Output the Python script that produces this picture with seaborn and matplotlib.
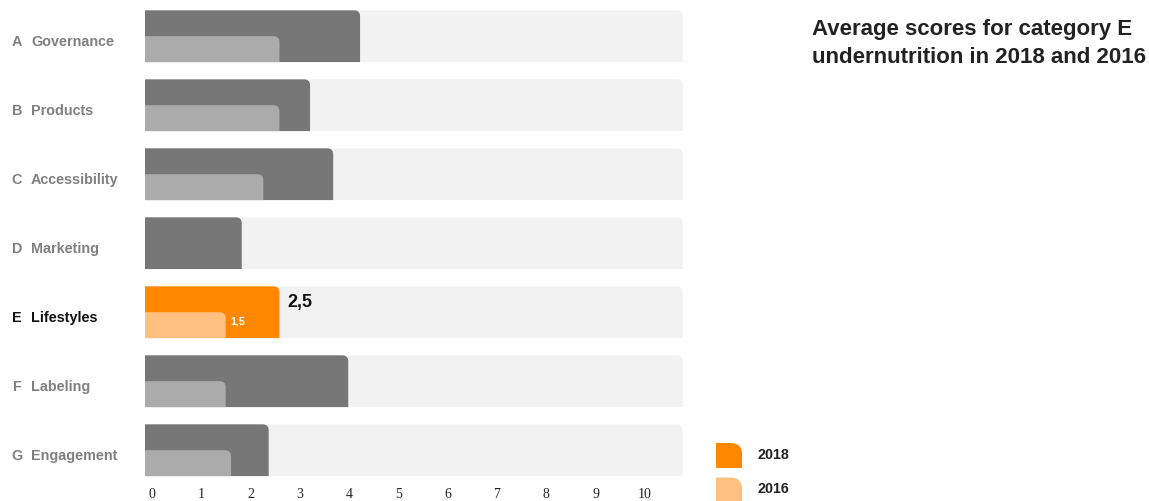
import matplotlib
matplotlib.use("Agg")
import matplotlib.pyplot as plt
import matplotlib.transforms as mtransforms
from matplotlib.path import Path
from matplotlib.patches import PathPatch, Rectangle
import seaborn as sns
import pandas as pd
import numpy as np

# ---------------- data ----------------
letters = ["A", "B", "C", "D", "E", "F", "G"]
categories = ["Governance", "Products", "Accessibility", "Marketing",
              "Lifestyles", "Labeling", "Engagement"]
scores_2018 = [4.0, 3.07, 3.5, 1.8, 2.5, 3.78, 2.3]
scores_2016 = [2.5, 2.5, 2.2, 0.0, 1.5, 1.5, 1.6]
max_score = 10
tick_labels = [str(i) for i in range(11)]
highlight = "Lifestyles"
years = ["2018", "2016"]
title = "Average scores for category E\nundernutrition in 2018 and 2016"

# ---------------- style ----------------
C_BG = "#f2f2f2"
C_18 = "#777777"
C_16 = "#ababab"
C_18_HI = "#ff8800"
C_16_HI = "#ffc080"

sns.set_theme(style="white")
plt.rcParams["font.family"] = ["Liberation Sans", "DejaVu Sans"]

W, H = 1149, 502
fig = plt.figure(figsize=(W / 100, H / 100), dpi=100)
ax = fig.add_axes([145 / W, 1 - 485.7 / H, 537.7 / W, 483 / H])

pos = np.arange(len(categories))
df = pd.DataFrame({
    "pos": pos.astype(float),
    "pos16": pos + 0.1875,
    "cat": categories,
    "s18": scores_2018,
    "s16": scores_2016,
    "bg": [max_score] * len(categories),
})

pal18 = {c: (C_18_HI if c == highlight else C_18) for c in categories}
pal16 = {c: (C_16_HI if c == highlight else C_16) for c in categories}

common = dict(data=df, orient="y", native_scale=True, errorbar=None,
              saturation=1, dodge=False, legend=False, ax=ax)
sns.barplot(x="bg", y="pos", color=C_BG, width=0.75, **common)
n_bg = len(ax.patches)
sns.barplot(x="s18", y="pos", hue="cat", palette=pal18, width=0.75, **common)
n_18 = len(ax.patches)
sns.barplot(x="s16", y="pos16", hue="cat", palette=pal16, width=0.375, **common)

ax.set_xlim(0, max_score)
ax.set_ylim(len(categories) - 0.5, -0.5)


def rounded_tr(x0, y0, x1, y1, r):
    """Path in display coords: rect with rounded top-right corner."""
    r = min(r, (x1 - x0), (y1 - y0))
    verts = [(x0, y0), (x1, y0), (x1, y1 - r), (x1, y1), (x1 - r, y1),
             (x0, y1), (x0, y0)]
    codes = [Path.MOVETO, Path.LINETO, Path.LINETO, Path.CURVE3, Path.CURVE3,
             Path.LINETO, Path.CLOSEPOLY]
    return verts, codes


# replace rectangles with rounded-corner bars
inv = ax.transData.inverted()
rects = [p for p in ax.patches if isinstance(p, Rectangle)]
for i, p in enumerate(rects):
    x, y, w, h = p.get_x(), p.get_y(), p.get_width(), p.get_height()
    fc = p.get_facecolor()
    p.remove()
    if w <= 0:
        continue
    (dx0, dy0), (dx1, dy1) = ax.transData.transform([(x, y), (x + w, y + h)])
    X0, X1 = min(dx0, dx1), max(dx0, dx1)
    Y0, Y1 = min(dy0, dy1), max(dy0, dy1)
    verts, codes = rounded_tr(X0, Y0, X1, Y1, 6)
    verts = inv.transform(verts)
    z = 1 if i < n_bg else (2 if i < n_18 else 3)
    ax.add_patch(PathPatch(Path(verts, codes), facecolor=fc, edgecolor="none",
                           zorder=z))

# value labels for highlighted category
hi = categories.index(highlight)
ax.annotate(f"{scores_2018[hi]:.1f}".replace(".", ","), xy=(scores_2018[hi], hi),
            xytext=(5.8, 8.0), textcoords="offset points", ha="left", va="center",
            fontsize=13, fontweight="bold", color="#111111", zorder=5)
ax.annotate(f"{scores_2016[hi]:.1f}".replace(".", ","), xy=(scores_2016[hi], hi + 0.1875),
            xytext=(3.6, 3), textcoords="offset points", ha="left", va="center",
            fontsize=7.8, fontweight="bold", color="white", zorder=5)

# category labels
blend = mtransforms.blended_transform_factory(fig.transFigure, ax.transData)
for i, (l, c) in enumerate(zip(letters, categories)):
    col = "#111111" if c == highlight else "#808080"
    ax.text(17 / W, i + 0.065, l, transform=blend, ha="center", va="center",
            fontsize=10.4, fontweight="bold", color=col)
    ax.text(31 / W, i + 0.065, c, transform=blend, ha="left", va="center",
            fontsize=10.4, fontweight="bold", color=col)

# x ticks
ax.set_xticks([0.125 + 0.9175 * i for i in range(len(tick_labels))])
ax.set_xticklabels(tick_labels, fontfamily="Liberation Serif", fontsize=10,
                   color="#222222")
ax.tick_params(axis="x", length=0, pad=1.5)
ax.set_yticks([])
ax.set_ylabel("")
ax.set_xlabel("")
for s in ax.spines.values():
    s.set_visible(False)

# title
fig.text(812 / W, 1 - 19 / H, title, ha="left", va="top", fontsize=16,
         fontweight="bold", color="#222222", linespacing=1.45)

# legend
finv = fig.transFigure.inverted()
for k, (yr, col) in enumerate(zip(years, [C_18_HI, C_16_HI])):
    top = 444 + k * 34.5
    verts, codes = rounded_tr(716, H - (top + 25), 742, H - top, 11)
    verts = finv.transform(verts)
    fig.add_artist(PathPatch(Path(verts, codes), facecolor=col, edgecolor="none",
                             transform=fig.transFigure))
    fig.text(757 / W, 1 - (top + 11) / H, yr, ha="left", va="center",
             fontsize=10.3, fontweight="bold", color="#222222")

fig.savefig("out.png", dpi=100)
